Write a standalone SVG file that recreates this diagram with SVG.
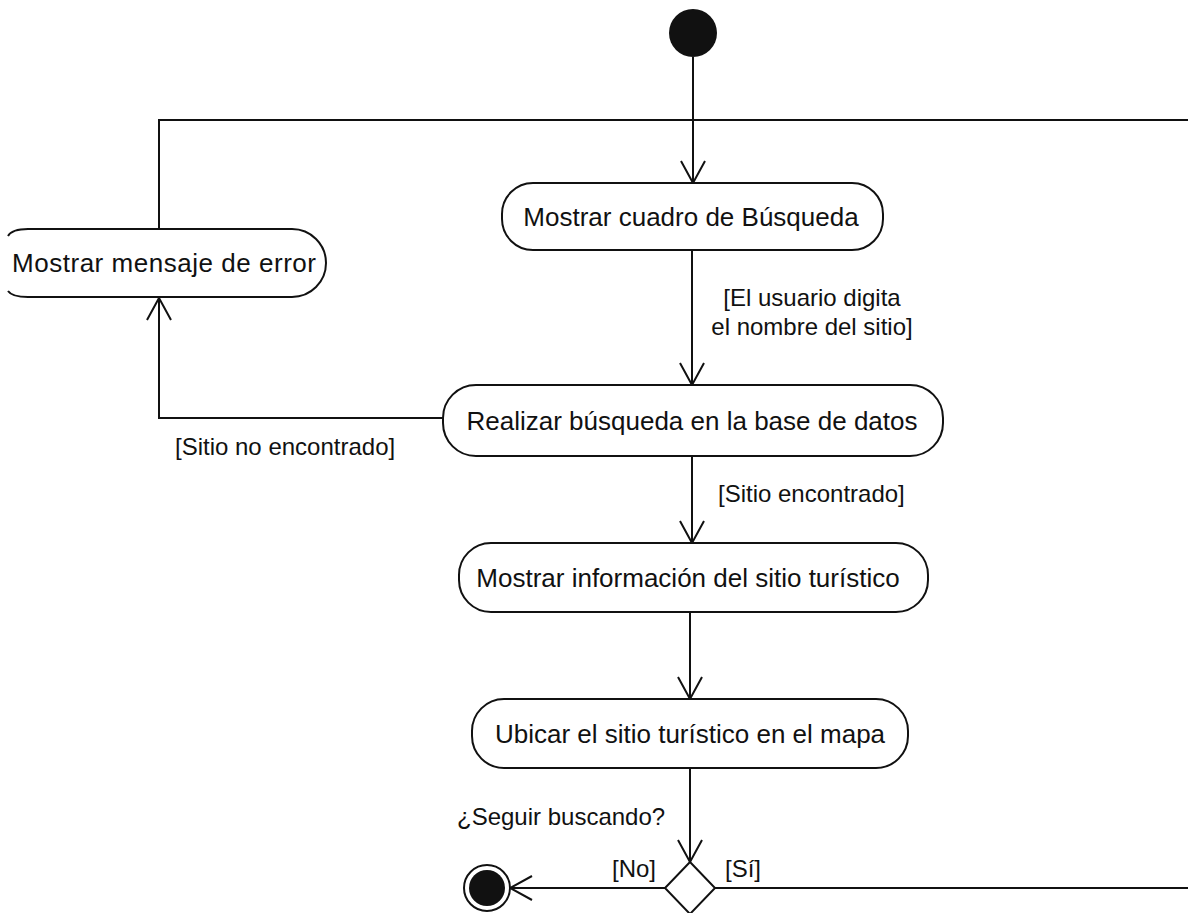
<svg xmlns="http://www.w3.org/2000/svg" width="1188" height="913" viewBox="0 0 1188 913">
  <style>
    .node { fill: #fff; stroke: #111; stroke-width: 2; }
    .edge { fill: none; stroke: #111; stroke-width: 2; }
    .lbl { font-family: "Liberation Sans", Arial, sans-serif; font-size: 26px; fill: #111; text-anchor: middle; }
    .guard { font-family: "Liberation Sans", Arial, sans-serif; font-size: 24px; fill: #111; }
  </style>
  <defs>
    <marker id="open" viewBox="0 0 24 28" refX="23" refY="14" markerWidth="24" markerHeight="28" markerUnits="userSpaceOnUse" orient="auto">
      <path d="M1,2 L23,14 L1,26" fill="none" stroke="#111" stroke-width="2"/>
    </marker>
  </defs>
  <rect width="1188" height="913" fill="#fff"/>

  <g id="connectors">
    <!-- start to search box -->
    <line class="edge" x1="693" y1="57" x2="693" y2="183" marker-end="url(#open)"/>
    <!-- loop back line across the top -->
    <polyline class="edge" points="159,229 159,120 1188,120"/>
    <!-- search box to query -->
    <line class="edge" x1="692" y1="250" x2="692" y2="385" marker-end="url(#open)"/>
    <!-- not found branch -->
    <polyline class="edge" points="443,418 159,418 159,298" marker-end="url(#open)"/>
    <!-- found branch -->
    <line class="edge" x1="692" y1="456" x2="692" y2="543" marker-end="url(#open)"/>
    <!-- info to map -->
    <line class="edge" x1="690" y1="612" x2="690" y2="699" marker-end="url(#open)"/>
    <!-- map to decision -->
    <line class="edge" x1="690" y1="768" x2="690" y2="862" marker-end="url(#open)"/>
    <!-- decision: no -->
    <line class="edge" x1="665" y1="888" x2="510" y2="888" marker-end="url(#open)"/>
    <!-- decision: yes -->
    <line class="edge" x1="715" y1="888" x2="1188" y2="888"/>
  </g>

  <g id="start">
    <circle cx="693" cy="33" r="24" fill="#111"/>
  </g>

  <g id="mostrar-cuadro">
    <rect class="node" x="502" y="183" width="381" height="67" rx="31" ry="31"/>
    <text class="lbl" x="691" y="226">Mostrar cuadro de Búsqueda</text>
  </g>

  <g id="mostrar-error">
    <path class="node" d="M8,236 Q12,229 28,229 H292 A34,34 0 0 1 292,297 H28 Q12,297 8,291"/>
    <text class="lbl" x="164" y="272" textLength="304" lengthAdjust="spacing">Mostrar mensaje de error</text>
  </g>

  <g id="realizar-busqueda">
    <rect class="node" x="443" y="385" width="500" height="71" rx="33" ry="33"/>
    <text class="lbl" x="692" y="430">Realizar búsqueda en la base de datos</text>
  </g>

  <g id="mostrar-info">
    <rect class="node" x="459" y="543" width="469" height="69" rx="32" ry="32"/>
    <text class="lbl" x="688" y="587">Mostrar información del sitio turístico</text>
  </g>

  <g id="ubicar-mapa">
    <rect class="node" x="472" y="699" width="436" height="69" rx="32" ry="32"/>
    <text class="lbl" x="690" y="743">Ubicar el sitio turístico en el mapa</text>
  </g>

  <g id="decision">
    <polygon class="node" points="690,862 715,888 690,914 665,888"/>
  </g>

  <g id="end">
    <circle cx="487" cy="888" r="23" fill="#fff" stroke="#111" stroke-width="2"/>
    <circle cx="487" cy="888" r="18" fill="#111"/>
  </g>

  <g id="guards">
    <text class="guard" x="812" y="306" text-anchor="middle">[El usuario digita</text>
    <text class="guard" x="812" y="335" text-anchor="middle">el nombre del sitio]</text>
    <text class="guard" x="175" y="455">[Sitio no encontrado]</text>
    <text class="guard" x="718" y="502">[Sitio encontrado]</text>
    <text class="guard" x="457" y="825">¿Seguir buscando?</text>
    <text class="guard" x="612" y="877">[No]</text>
    <text class="guard" x="725" y="877">[Sí]</text>
  </g>
</svg>
